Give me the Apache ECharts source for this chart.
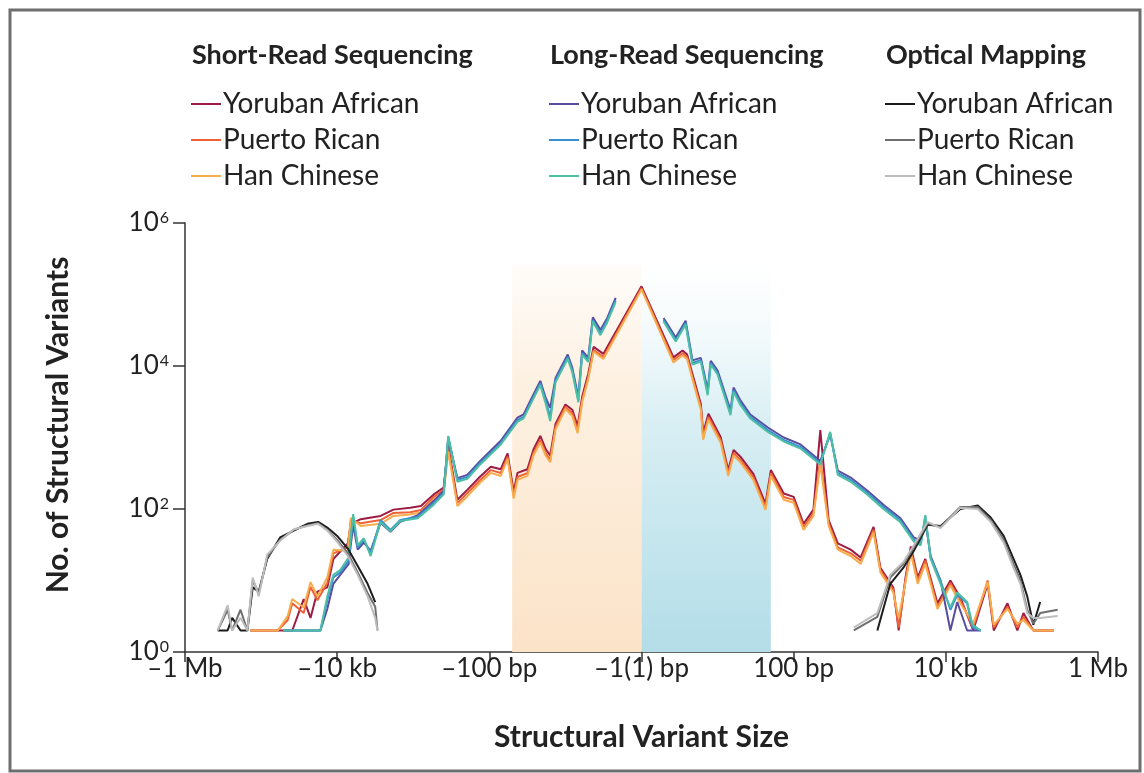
<!DOCTYPE html>
<html>
<head>
<meta charset="utf-8">
<script src="https://cdn.jsdelivr.net/npm/echarts@6/dist/echarts.min.js"></script>
<style>
  html, body { margin: 0; padding: 0; background: #fff; }
  #chart { width: 1144px; height: 773px; }
</style>
</head>
<body>
<div id="chart"></div>
<script>
// x positions are signed log10 of structural-variant size (bp): -6 = -1 Mb ... 0 = ±1 bp ... 6 = 1 Mb
const X_TICKS = { '-6': '–1 Mb', '-4': '–10 kb', '-2': '–100 bp', '0': '–1(1) bp', '2': '100 bp', '4': '10 kb', '6': '1 Mb' };
const SHADE_LIMITS = [-1.7, 0, 1.7];

// ---- Short-read sequencing ----
const SR_X = [-5.14,-4.78,-4.65,-4.59,-4.44,-4.35,-4.26,-4.13,-4.05,-3.86,-3.82,-3.69,-3.43,-3.26,-3.04,-2.90,-2.73,-2.60,-2.54,-2.42,-2.29,-2.12,-1.98,-1.85,-1.76,-1.68,-1.63,-1.50,-1.42,-1.33,-1.26,-1.20,-1.13,-1.00,-0.91,-0.84,-0.78,-0.70,-0.63,-0.50,0,
  0.42,0.54,0.60,0.67,0.78,0.81,0.88,0.95,1.04,1.14,1.21,1.30,1.47,1.63,1.70,1.87,2.00,2.13,2.26,2.35,2.46,2.58,2.75,2.88,3.05,3.14,3.31,3.38,3.47,3.54,3.63,3.73,3.89,4.06,4.19,4.36,4.55,4.63,4.81,4.94,5.02,5.15,5.42];
const SR_YRI = [2,2,2,2,5.5,3,7,8,20,33,62,72,80,98,104,110,160,200,760,135,185,285,390,360,600,175,320,360,680,1050,690,560,1550,2900,2450,1450,3700,7800,18500,14800,130000,
  13200,16500,14500,7700,2950,1150,2150,1550,1020,350,670,540,310,118,350,165,148,62,98,1270,70,33,27,21,56,15,8,2,11,30,11,20,4.8,10,5.8,2,9,2,4.8,2,3.5,2,2];
const SR_PUR = [2,2,2.8,4.8,3.5,8.1,5.3,9.2,24,29,70,63,70,88,90,97,147,185,700,121,167,255,350,318,540,155,280,318,607,925,607,487,1400,2670,2190,1270,3330,7030,16700,13400,123000,
  12100,15200,13400,7030,2670,1020,1940,1400,925,318,607,487,280,107,318,147,134,56,88,500,63,29,24,19,51,14,7.4,2.2,10,27,10,19,4.3,9.2,5.3,2.2,10,2.2,4.3,2.2,3.1,2,2];
const SR_HAN = [2,2,3.2,5.5,4.2,9.5,6,11,27,26,75,58,62,80,84,90,135,170,640,110,150,235,320,290,500,140,255,290,560,850,560,450,1300,2500,2000,1150,3100,6600,15800,12600,118000,
  11200,14000,12400,6500,2450,930,1780,1280,850,290,560,450,255,97,290,135,122,51,80,420,58,27,22,17,47,13,6.8,3,9.5,24,9,17,4,8.5,4.8,2.5,9.5,2.4,4,2.5,2.8,2,2];

// ---- Long-read sequencing ('-' = no data around ±1 bp) ----
const LR_X = [-4.71,-4.26,-4.22,-4.13,-4.05,-3.96,-3.85,-3.79,-3.73,-3.65,-3.56,-3.43,-3.30,-3.17,-2.94,-2.73,-2.60,-2.54,-2.42,-2.29,-2.12,-1.85,-1.63,-1.55,-1.42,-1.33,-1.26,-1.20,-1.13,-0.97,-0.91,-0.83,-0.78,-0.70,-0.64,-0.54,-0.45,-0.34,0,
  0.29,0.45,0.58,0.67,0.78,0.87,0.91,1.00,1.17,1.21,1.30,1.43,1.66,1.87,2.09,2.35,2.48,2.58,2.75,2.97,3.18,3.40,3.58,3.67,3.73,3.80,3.93,4.06,4.15,4.28,4.35,4.46];
const LR_YRI = [2,2,2,4,9,12,17,60,27,34,26,64,48,66,82,130,180,980,270,300,470,900,1900,2100,4000,6200,3600,2600,6800,14500,9500,3700,16500,13000,48000,32000,47000,90000,'-',
  47000,25000,43000,12000,13000,4600,11800,8600,2400,5000,3300,2100,1380,1000,800,470,1100,345,275,180,115,75,40,36,70,22,10,2,5,2,2,2];
const LR_PUR = [2,2,2,5.3,11,13,19,78,29,37,24,70,51,70,78,121,167,1020,255,280,440,835,1750,1940,3700,5770,3330,1940,6340,13400,8800,3330,15200,12100,44000,29000,44000,83000,'-',
  44000,23000,40000,11000,12100,4170,11000,7950,2190,4600,3030,1940,1270,925,740,440,1150,318,255,167,107,70,37,33,78,21,10,3.9,6.3,4.8,2.2,2];
const LR_HAN = [2,2,2,6,12,14,21,85,31,39,22,66,49,68,74,115,160,1050,240,265,420,800,1650,1850,3500,5400,3000,1700,5900,12600,8200,3100,14300,11400,42000,27000,41000,78000,'-',
  42000,22000,38000,10500,11500,3900,10500,7600,2050,4350,2850,1840,1200,880,700,420,1200,300,240,158,100,66,35,31,82,20,9,4.2,6.8,5,2.4,2];

// ---- Optical mapping ('-' separates deletions and insertions) ----
const OM_X = [-5.57,-5.44,-5.38,-5.27,-5.18,-5.11,-5.03,-4.92,-4.75,-4.57,-4.39,-4.25,-4.13,-4.00,-3.86,-3.73,-3.60,-3.50,-3.47,0,
  2.79,3.10,3.27,3.44,3.58,3.76,3.93,4.19,4.42,4.59,4.76,4.89,4.98,5.07,5.15,5.24,5.47];
const OM_YRI = [2,2,3,2,2,8,7,20,40,50,62,66,55,42,28,16,9,5,'-','-',
  '-',2,9,15,26,60,58,100,112,76,42,20,12,6,2.4,5,'-'];
const OM_PUR = [2,3.9,2,3.9,2,10,6.7,21,37,51,59,63,51,37,24,13,6.7,4.3,2,'-',
  2,3.1,11,17,29,63,56,107,107,70,37,17,10,3.9,2.5,3.5,3.9];
const OM_HAN = [2,4.5,2,3,2,11,6,23,36,52,58,62,50,35,22,12,6,3,2,'-',
  2.2,3.5,12,18,31,66,54,104,100,66,34,15,9,3.5,3,3,3.2];

const GROUPS = ['Short-Read Sequencing', 'Long-Read Sequencing', 'Optical Mapping'];
const POPS = ['Yoruban African', 'Puerto Rican', 'Han Chinese'];
const COLORS = [
  ['#9c1c43', '#ee6235', '#f6ac4f'],
  ['#5a4da1', '#3a8fcf', '#4dbfa5'],
  ['#1c1c1c', '#6e6e6e', '#bdbdbd']
];
const SETS = [
  [SR_X, [SR_YRI, SR_PUR, SR_HAN]],
  [LR_X, [LR_YRI, LR_PUR, LR_HAN]],
  [OM_X, [OM_YRI, OM_PUR, OM_HAN]]
];
const PREFIX = ['SR', 'LR', 'OM'];

const FONT = 'Lato';

const series = [];
SETS.forEach(([xs, ys], g) => {
  ys.forEach((yv, p) => {
    series.push({
      name: PREFIX[g] + ' ' + POPS[p],
      type: 'line',
      symbol: 'none',
      showSymbol: false,
      connectNulls: false,
      lineStyle: { width: 2, color: COLORS[g][p] },
      itemStyle: { color: COLORS[g][p] },
      emphasis: { disabled: true },
      data: xs.map((x, i) => [x, yv[i]]),
      z: 3
    });
  });
});

// shaded central regions
series[0].markArea = {
  silent: true,
  z: 1,
  data: [
    [{ xAxis: SHADE_LIMITS[0], yAxis: 1, itemStyle: { color: new echarts.graphic.LinearGradient(0, 0, 0, 1, [
        { offset: 0, color: 'rgba(253,240,225,0.2)' }, { offset: 0.3, color: 'rgba(253,240,224,0.95)' }, { offset: 1, color: '#fbe3c8' }]) } },
     { xAxis: SHADE_LIMITS[1], yAxis: 2.6e5 }],
    [{ xAxis: SHADE_LIMITS[1], yAxis: 1, itemStyle: { color: new echarts.graphic.LinearGradient(0, 0, 0, 1, [
        { offset: 0, color: 'rgba(235,246,249,0)' }, { offset: 0.4, color: '#d9eff4' }, { offset: 1, color: '#b3dde8' }]) } },
     { xAxis: SHADE_LIMITS[2], yAxis: 2.6e5 }]
  ]
};

const legends = GROUPS.map((g, gi) => ({
  orient: 'vertical',
  left: [186, 544, 880][gi],
  top: 85,
  itemWidth: 30,
  itemHeight: 2,
  itemGap: 8,
  icon: 'rect',
  selectedMode: false,
  data: POPS.map(p => PREFIX[gi] + ' ' + p),
  formatter: name => name.slice(3),
  textStyle: { fontFamily: FONT, fontSize: 28, color: '#222', lineHeight: 26, padding: [0, 0, 0, -3] }
}));

const titles = GROUPS.map((g, gi) => ({
  text: g,
  left: [187, 545, 881][gi],
  top: 37,
  textStyle: { fontFamily: FONT, fontSize: 27, fontWeight: 'bold', color: '#222' }
}));

const chart = echarts.init(document.getElementById('chart'), null, { renderer: 'canvas' });
chart.setOption({
  animation: false,
  backgroundColor: '#fff',
  title: titles,
  legend: legends,
  grid: { left: 185, right: 46, top: 223, bottom: 121, containLabel: false },
  xAxis: {
    type: 'value', min: -6, max: 6, interval: 2,
    name: 'Structural Variant Size', nameLocation: 'middle', nameGap: 70,
    nameTextStyle: { fontFamily: FONT, fontSize: 30, fontWeight: 'bold', color: '#222' },
    axisLine: { onZero: false, lineStyle: { color: '#333', width: 1.5 } },
    axisTick: { length: 10, lineStyle: { color: '#333', width: 1.5 } },
    axisLabel: { formatter: v => X_TICKS[String(v)] || '', fontFamily: FONT, fontSize: 26, color: '#222', margin: 4 },
    splitLine: { show: false }
  },
  yAxis: {
    type: 'log', logBase: 10, min: 1, max: 1e6, interval: 2,
    axisLine: { show: true, onZero: false, lineStyle: { color: '#333', width: 1.5 } },
    axisTick: { show: true, length: 12, lineStyle: { color: '#333', width: 1.5 } },
    axisLabel: {
      formatter: v => '10{s|' + Math.round(Math.log10(v)) + '}',
      fontFamily: FONT, fontSize: 26, color: '#222', margin: 16,
      rich: { s: { fontFamily: FONT, fontSize: 16, color: '#222', verticalAlign: 'top', lineHeight: 16, padding: [0, 0, 12, 1] } }
    },
    splitLine: { show: false }
  },
  graphic: [{
    type: 'text', silent: true,
    x: 58, y: 425, rotation: Math.PI / 2,
    style: { text: 'No. of Structural Variants', fontFamily: FONT, fontSize: 30, fontWeight: 'bold', fill: '#222', align: 'center', verticalAlign: 'middle' }
  }, {
    type: 'rect', silent: true, z: 100,
    shape: { x: 10, y: 10, width: 1130, height: 761 },
    style: { fill: null, stroke: '#6e6e6e', lineWidth: 3 }
  }],
  series: series
});
</script>
</body>
</html>
